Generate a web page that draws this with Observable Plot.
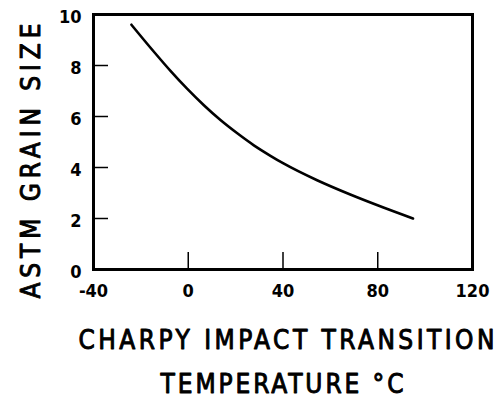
<!DOCTYPE html>
<html><head><meta charset="utf-8">
<script src="https://cdn.jsdelivr.net/npm/d3@7"></script>
<script src="https://cdn.jsdelivr.net/npm/@observablehq/plot@0.6"></script>
<style>body{margin:0;background:#fff}</style>
</head><body><div id="chart"></div>
<script>
// Data
const temperature = [-24, -14.5, -7.5, -0.5, 6.6, 13.6, 20.7, 27.7, 34.7, 40.2, 54.4, 68.4, 82.4, 94.9];
const grainSize   = [9.6, 8.54, 7.79, 7.09, 6.44, 5.86, 5.34, 4.87, 4.46, 4.16, 3.5, 2.94, 2.43, 2.0];
const xTicks = [-40, 0, 40, 80, 120];
const xInnerTicks = [0, 40, 80];
const yTicks = [0, 2, 4, 6, 8, 10];
const yInnerTicks = [2, 4, 6, 8];
const xTitle = ["CHARPY IMPACT TRANSITION", "TEMPERATURE °C"];
const yTitle = "ASTM GRAIN SIZE";

const data = temperature.map((t, i) => ({t, g: grainSize[i]}));
const tickFont = "DejaVu Sans Condensed, DejaVu Sans, sans-serif";
const titleFont = "DejaVu Sans Condensed, DejaVu Sans, sans-serif";

const chart = Plot.plot({
  width: 497, height: 400,
  marginLeft: 93, marginRight: 25, marginTop: 14, marginBottom: 131,
  style: {background: "#fff", color: "#000", fontFamily: tickFont},
  x: {domain: [-40, 120]},
  y: {domain: [0, 10]},
  marks: [
    Plot.axisX({ticks: xInnerTicks, tickSize: -17, tickFormat: () => "", strokeWidth: 1.5, label: null}),
    Plot.axisY({ticks: yInnerTicks, tickSize: -15, tickFormat: () => "", strokeWidth: 1.5, label: null}),
    Plot.axisX({ticks: xTicks, tickSize: 0, tickPadding: 15, tickFormat: d => String(d), fontSize: 18, fontWeight: "bold", label: null}),
    Plot.axisY({ticks: yTicks, tickSize: 0, tickPadding: 12, dy: 3, tickFormat: d => String(d), fontSize: 18, fontWeight: "bold", label: null}),
    Plot.frame({stroke: "#000", strokeWidth: 3}),
    Plot.line(data, {x: "t", y: "g", curve: "monotone-x", stroke: "#000", strokeWidth: 2.6}),
    Plot.text([xTitle[0]], {text: d => d, frameAnchor: "bottom", textAnchor: "start", lineAnchor: "middle",
      dx: -204.5, dy: 71, fontSize: 26, fontFamily: titleFont, stroke: "#000", strokeWidth: 0.9, fill: "#000"}),
    Plot.text([xTitle[1]], {text: d => d, frameAnchor: "bottom", textAnchor: "start", lineAnchor: "middle",
      dx: -122.5, dy: 115, fontSize: 26, fontFamily: titleFont, stroke: "#000", strokeWidth: 0.9, fill: "#000"}),
    Plot.text([yTitle], {text: d => d, frameAnchor: "left", rotate: -90, textAnchor: "start", lineAnchor: "middle",
      dx: -62, dy: 156.5, fontSize: 26, fontFamily: titleFont, stroke: "#000", strokeWidth: 0.9, fill: "#000"})
  ]
});
document.getElementById("chart").appendChild(chart);
const lengths = new Map([[xTitle[0], 416], [xTitle[1], 243], [yTitle, 275]]);
d3.select(chart).selectAll("text").each(function() {
  const L = lengths.get(this.textContent);
  if (L) d3.select(this).attr("textLength", L).attr("lengthAdjust", "spacing");
});
</script>
</body></html>
